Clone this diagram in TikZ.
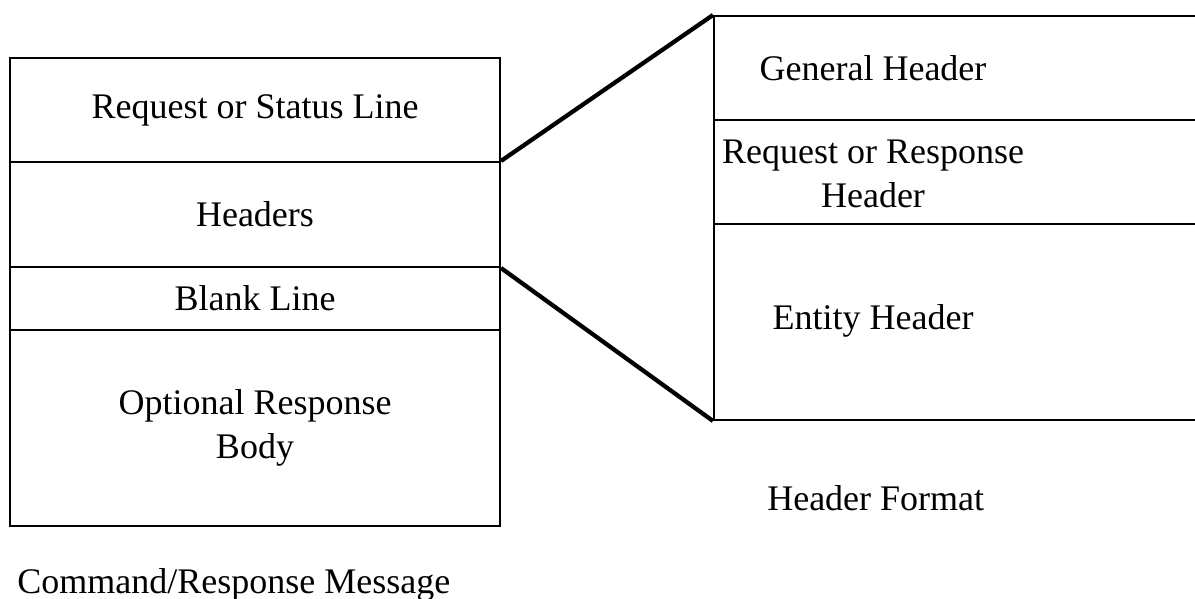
\documentclass[tikz,border=0pt]{standalone}
\usepackage{fontspec}
\setmainfont{Liberation Serif}
\begin{document}
\begin{tikzpicture}[x=0.75pt,y=-0.75pt,
  box/.style={draw, line width=1.5pt, inner sep=0pt, align=center, font=\fontsize{27}{32.5}\selectfont},
  lbl/.style={inner sep=0pt, font=\fontsize{27}{32.5}\selectfont},
  zoomline/.style={line width=3.2pt}]
\useasboundingbox (0,0) rectangle (1195,599);
\clip (0,0) rectangle (1195,599);
% left stack (sizes in pt = px * 0.75)
\node[box, minimum width=367.5pt, minimum height=78pt] (req) at (255,110) {Request or Status Line};
\node[box, minimum width=367.5pt, minimum height=78.75pt] (hdr) at (255,214.5) {Headers};
\node[box, minimum width=367.5pt, minimum height=47.25pt] (blank) at (255,298.5) {Blank Line};
\node[box, minimum width=367.5pt, minimum height=147pt] (body) at (255,428) {Optional Response\\Body};
% right stack (right edge beyond the picture)
\node[box, minimum width=375pt, minimum height=78pt, anchor=north west] (gen) at (713,15) {};
\node[box, minimum width=375pt, minimum height=78pt, anchor=north west] (rr) at (713,119) {};
\node[box, minimum width=375pt, minimum height=147pt, anchor=north west] (ent) at (713,223) {};
\node[lbl, align=center] (gent) at (873,68) {General Header};
\node[lbl, align=center] (rrt) at (873,174) {Request or Response\\Header};
\node[lbl, align=center] (entt) at (873,321) {Entity Header};
% zoom lines
\draw[zoomline] (hdr.north east) -- (gen.north west);
\draw[zoomline] (hdr.south east) -- (ent.south west);
% captions
\node[lbl, anchor=base west] (hf) at (767,510) {Header Format};
\node[lbl, anchor=base west] (crm) at (17,593) {Command/Response Message};
\end{tikzpicture}
\end{document}
